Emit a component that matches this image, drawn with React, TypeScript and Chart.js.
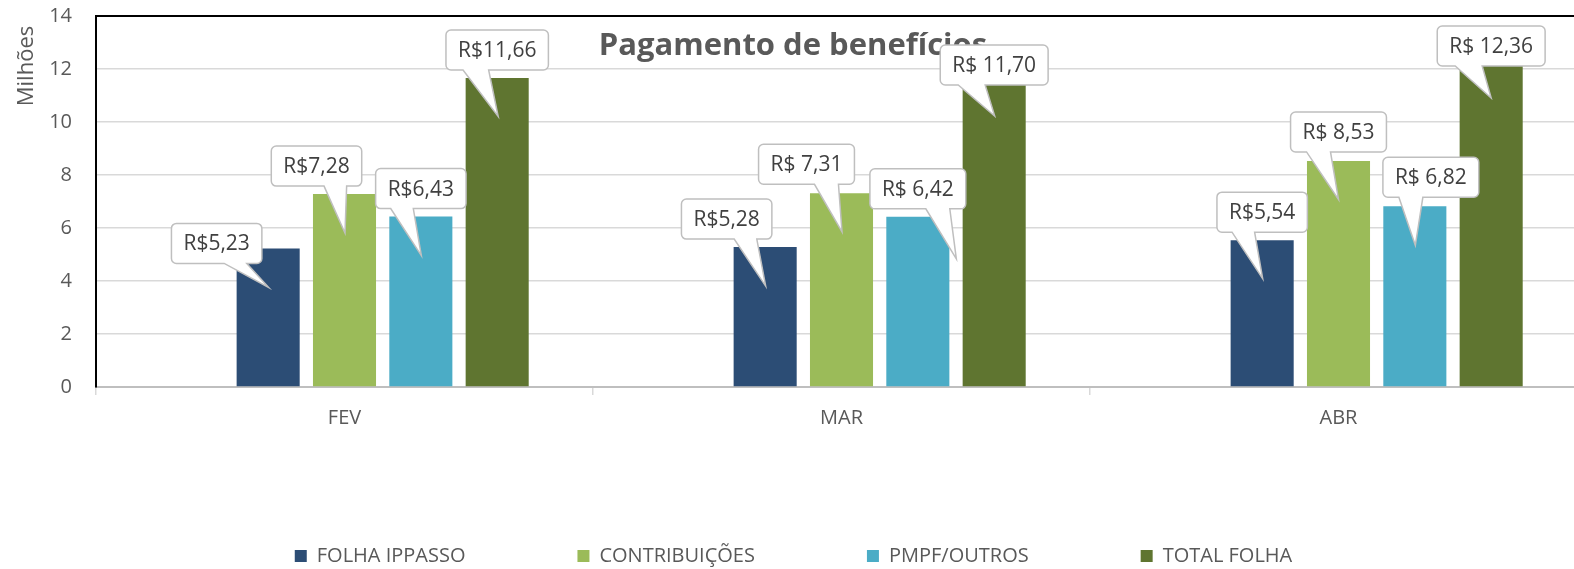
import React, { useEffect, useRef } from 'react';
import { Chart, registerables } from 'chart.js';

Chart.register(...registerables);

// ---- data ----
const categories = ['FEV', 'MAR', 'ABR'];
const seriesNames = ['FOLHA IPPASSO', 'CONTRIBUIÇÕES', 'PMPF/OUTROS', 'TOTAL FOLHA'];
const folhaIppasso = [5.23, 5.28, 5.54];
const contribuicoes = [7.28, 7.31, 8.53];
const pmpfOutros = [6.43, 6.42, 6.82];
const totalFolha = [11.66, 11.7, 12.36];
// empty first series of the original sheet (keeps the bar groups shifted right)
const emptySeries = [null, null, null];

const folhaLabels = ['R$5,23', 'R$5,28', 'R$5,54'];
const contribLabels = ['R$7,28', 'R$ 7,31', 'R$ 8,53'];
const pmpfLabels = ['R$6,43', 'R$ 6,42', 'R$ 6,82'];
const totalLabels = ['R$11,66', 'R$ 11,70', 'R$ 12,36'];

const yTicks = { min: 0, max: 14, step: 2 };
const chartTitle = 'Pagamento de benefícios';
const yAxisTitle = 'Milhões';

// ---- styles ----
const colors = ['#2C4D75', '#9BBB59', '#4BACC6', '#5F7530'];
const FONT = '"Open Sans", sans-serif';
const TEXT = '#595959';
// callout placement relative to bar (centre x, top y): [boxDx, boxBottomDy, tipDx, tipDy]
const calloutOffsets = [
  [[-51.5, 15, 0.5, 39], [-38.5, -8, 0.5, 39], [0, -8, 0.5, 38.5]],
  [[-28, -8, 0.5, 39], [-35, -9, 0.5, 38.5], [0, -9, 0, 38.5]],
  [[0, -8, 0.5, 39], [0, -8, 38.5, 42], [16, -9, 0.5, 39]],
  [[0, -8, 1, 38.5], [0, 8, 0.5, 39], [0, 6.5, 0, 38.5]],
];

const calloutPlugin = {
  id: 'callouts',
  beforeDatasetsDraw(chart: any) {
    const { ctx } = chart;
    ctx.save();
    ctx.font = `bold 31px ${FONT}`;
    ctx.fillStyle = TEXT;
    ctx.textAlign = 'center';
    ctx.textBaseline = 'alphabetic';
    ctx.fillText(chartTitle, 793, 55);
    ctx.restore();
  },
  afterDatasetsDraw(chart: any) {
    const { ctx } = chart;
    const labelSets = [folhaLabels, contribLabels, pmpfLabels, totalLabels];
    ctx.save();
    ctx.font = `21px ${FONT}`;
    for (let s = 0; s < 4; s++) {
      const meta = chart.getDatasetMeta(s + 1);
      meta.data.forEach((el: any, i: number) => {
        const text = labelSets[s][i];
        const [bdx, bdy, tdx, tdy] = calloutOffsets[s][i];
        const w = ctx.measureText(text).width + 24;
        const h = 40;
        const cx = el.x + bdx;
        const b = el.y + bdy;
        const t = b - h;
        const l = cx - w / 2;
        const rr = l + w;
        const tipX = el.x + tdx;
        const tipY = el.y + tdy;
        let baseL, baseR;
        if (tipX > cx + 2) {
          baseL = l + (w * 7) / 12;
          baseR = l + (w * 10) / 12;
        } else {
          baseL = l + (w * 2) / 12;
          baseR = l + (w * 5) / 12;
        }
        const r = 5;
        ctx.beginPath();
        ctx.moveTo(l + r, t);
        ctx.lineTo(rr - r, t);
        ctx.arcTo(rr, t, rr, t + r, r);
        ctx.lineTo(rr, b - r);
        ctx.arcTo(rr, b, rr - r, b, r);
        ctx.lineTo(baseR, b);
        ctx.lineTo(tipX, tipY);
        ctx.lineTo(baseL, b);
        ctx.lineTo(l + r, b);
        ctx.arcTo(l, b, l, b - r, r);
        ctx.lineTo(l, t + r);
        ctx.arcTo(l, t, l + r, t, r);
        ctx.closePath();
        ctx.fillStyle = '#ffffff';
        ctx.fill();
        ctx.strokeStyle = '#bfbfbf';
        ctx.lineWidth = 1.5;
        ctx.stroke();
        ctx.fillStyle = '#404040';
        ctx.textAlign = 'center';
        ctx.textBaseline = 'middle';
        ctx.fillText(text, cx, (t + b) / 2 + 1);
      });
    }
    ctx.restore();
  },
  afterDraw(chart: any) {
    const { ctx } = chart;
    ctx.save();
    ctx.translate(27, 66);
    ctx.rotate(-Math.PI / 2);
    ctx.font = `22px ${FONT}`;
    ctx.fillStyle = TEXT;
    ctx.textAlign = 'center';
    ctx.textBaseline = 'middle';
    ctx.fillText(yAxisTitle, 0, 0);
    ctx.restore();
  },
};

export default function App() {
  const canvasRef = useRef<HTMLCanvasElement | null>(null);

  useEffect(() => {
    if (!canvasRef.current) return;
    const seriesData = [folhaIppasso, contribuicoes, pmpfOutros, totalFolha];
    const chart = new Chart(canvasRef.current, {
      type: 'bar',
      data: {
        labels: categories,
        datasets: [
          {
            label: '',
            data: emptySeries as any,
            backgroundColor: '#ffffff',
            categoryPercentage: 0.768,
            barPercentage: 0.826,
          },
          ...seriesData.map((d, k) => ({
            label: seriesNames[k],
            data: d,
            backgroundColor: colors[k],
            borderWidth: 0,
            categoryPercentage: 0.768,
            barPercentage: 0.826,
          })),
        ],
      },
      options: {
        responsive: false,
        animation: false,
        layout: { padding: { top: 16, left: 0, right: 0, bottom: 0 } },
        plugins: {
          legend: {
            position: 'bottom',
            labels: {
              boxWidth: 12,
              boxHeight: 12,
              padding: 112,
              color: TEXT,
              font: { family: FONT, size: 20 },
              filter: (item: any) => item.text !== '',
            },
          },
          tooltip: { enabled: false },
        },
        scales: {
          x: {
            afterFit: (scale: any) => {
              scale.height = 47;
              scale.paddingLeft = 0;
              scale.paddingRight = 0;
            },
            grid: {
              offset: true,
              drawOnChartArea: false,
              drawTicks: true,
              tickLength: 8,
              color: '#d9d9d9',
              lineWidth: 1.5,
            },
            border: { display: true, color: '#bfbfbf', width: 2 },
            ticks: {
              color: TEXT,
              font: { family: FONT, size: 20 },
              padding: 11,
            },
          },
          y: {
            min: yTicks.min,
            max: yTicks.max,
            afterFit: (scale: any) => {
              scale.width = 96;
              scale.paddingTop = 0;
              scale.paddingBottom = 0;
            },
            grid: {
              drawTicks: false,
              color: (c: any) => (c.tick && c.tick.value === yTicks.max ? '#000000' : '#d9d9d9'),
              lineWidth: (c: any) => (c.tick && c.tick.value === yTicks.max ? 2 : 1.5),
            },
            border: { display: true, color: '#000000', width: 2 },
            ticks: {
              stepSize: yTicks.step,
              padding: 24,
              color: TEXT,
              font: { family: FONT, size: 20 },
            },
          },
        },
      },
      plugins: [calloutPlugin],
    } as any);
    return () => chart.destroy();
  }, []);

  return (
    <div
      style={{
        position: 'absolute',
        left: 0,
        top: 0,
        width: 1574,
        height: 569,
        overflow: 'hidden',
        background: '#ffffff',
      }}
    >
      <canvas ref={canvasRef} width={1587} height={576} style={{ display: 'block' }} />
    </div>
  );
}
